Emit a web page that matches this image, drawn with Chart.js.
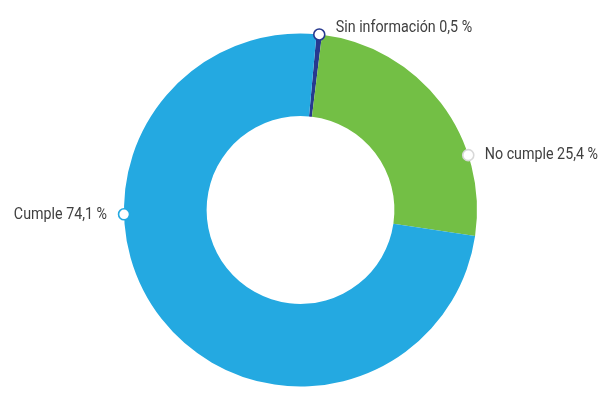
<!DOCTYPE html>
<html>
<head>
<meta charset="utf-8">
<script src="https://cdn.jsdelivr.net/npm/chart.js@4/dist/chart.umd.min.js"></script>
<style>
html,body{margin:0;padding:0;background:#fff;}
canvas{display:block;}
</style>
</head>
<body>
<canvas id="c" width="608" height="411"></canvas>
<script>
const categories = ["Sin información", "No cumple", "Cumple"];
const values = [0.5, 25.4, 74.1];
const valueLabels = ["0,5 %", "25,4 %", "74,1 %"];
const colors = ["#27398f", "#73bf45", "#24a9e1"];
const markerBorders = ["#27398f", "#d8d8d8", "#24a9e1"];
// label marker placement (degrees clockwise from top) and side
const markerAngles = [6.1, 71.9, 268.6];
const labelSide = ["right", "right", "left"];
const labelDy = [-7, 0, 0];

const labelPlugin = {
  id: 'donutLabels',
  afterDatasetsDraw(chart) {
    const ctx = chart.ctx;
    const meta = chart.getDatasetMeta(0);
    meta.data.forEach((arc, i) => {
      const p = arc.getProps(['x', 'y', 'outerRadius'], true);
      const a = (markerAngles[i] - 90) * Math.PI / 180;
      const mx = p.x + Math.cos(a) * p.outerRadius;
      const my = p.y + Math.sin(a) * p.outerRadius;
      ctx.save();
      ctx.beginPath();
      ctx.arc(mx, my, 5.5, 0, Math.PI * 2);
      ctx.fillStyle = '#fff';
      ctx.fill();
      ctx.lineWidth = 1.6;
      ctx.strokeStyle = markerBorders[i];
      ctx.stroke();
      const txt = categories[i] + ' ' + valueLabels[i];
      ctx.font = '400 17px Roboto';
      ctx.fillStyle = '#404040';
      ctx.textBaseline = 'middle';
      const sx = 0.84;
      const ty = my + labelDy[i];
      if (labelSide[i] === 'right') {
        ctx.translate(mx + 16.5, ty);
        ctx.scale(sx, 1);
        ctx.textAlign = 'left';
      } else {
        ctx.translate(mx - 17, ty);
        ctx.scale(sx, 1);
        ctx.textAlign = 'right';
      }
      ctx.fillText(txt, 0, 0);
      ctx.restore();
    });
  }
};

new Chart(document.getElementById('c'), {
  type: 'doughnut',
  data: {
    labels: categories,
    datasets: [{
      data: values,
      backgroundColor: colors,
      borderWidth: 0,
      hoverOffset: 0
    }]
  },
  options: {
    responsive: false,
    animation: false,
    devicePixelRatio: 1,
    rotation: 5.2,
    cutout: '53.2%',
    layout: { padding: { top: 33.5, bottom: 24.5, left: 0, right: 7 } },
    plugins: {
      legend: { display: false },
      tooltip: { enabled: false }
    }
  },
  plugins: [labelPlugin]
});
</script>
</body>
</html>
